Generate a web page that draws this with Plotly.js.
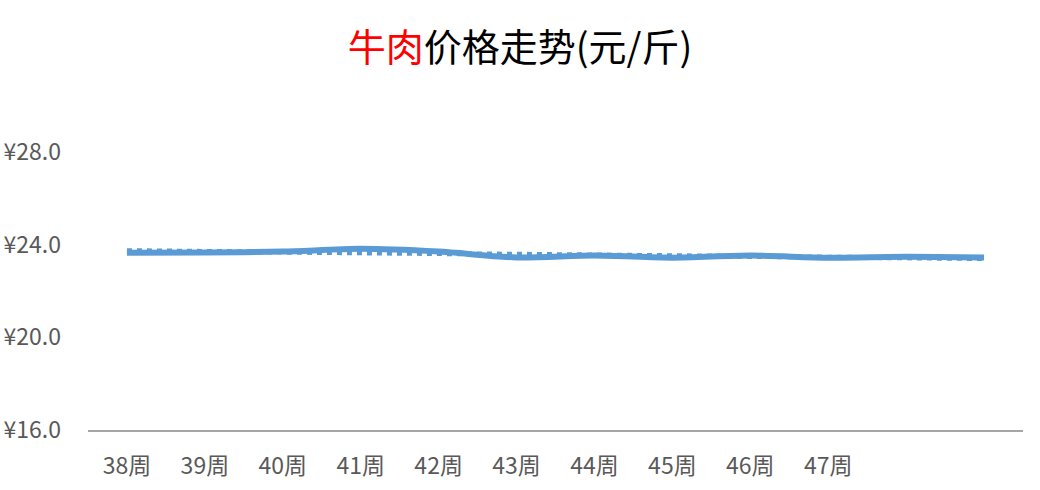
<!DOCTYPE html>
<html>
<head>
<meta charset="utf-8">
<script src="https://cdn.plot.ly/plotly-3.0.1.min.js"></script>
<style>html,body{margin:0;padding:0;background:#fff;}#chart{width:1040px;height:490px;}</style>
</head>
<body>
<div id="chart"></div>
<script>
var weeks = [0,1,2,3,4,5,6,7,8,9,10,11];
var weekLabels = ["38周","39周","40周","41周","42周","43周","44周","45周","46周","47周","",""];
var beefPrice = [23.65,23.66,23.70,23.82,23.70,23.45,23.53,23.44,23.53,23.44,23.48,23.45];
var beefTrend = [23.74,23.71,23.68,23.64,23.61,23.58,23.55,23.52,23.49,23.46,23.43,23.40];

var lineColor = "#5B9BD5";
var traces = [
  {x: weeks, y: beefTrend, type: "scatter", mode: "lines",
   line: {color: lineColor, width: 5, dash: "dot"}, hoverinfo: "skip"},
  {x: weeks, y: beefPrice, type: "scatter", mode: "lines",
   line: {color: lineColor, width: 6, shape: "spline", smoothing: 0.8}}
];
var tickFont = {family: "Noto Sans CJK SC, Noto Sans, sans-serif", size: 23, color: "#595959"};
var layout = {
  width: 1040, height: 490,
  paper_bgcolor: "#fff", plot_bgcolor: "#fff",
  showlegend: false,
  margin: {l: 88, r: 17, t: 152, b: 60},
  title: {
    text: '<span style="color:#FF0000">牛肉</span>价格走势(元/斤)',
    font: {family: "Noto Sans CJK SC, sans-serif", size: 38, color: "#000"},
    x: 0.5, xanchor: "center", xref: "container",
    y: 0.902, yanchor: "middle", yref: "container"
  },
  xaxis: {
    range: [-0.5, 11.5], tickvals: weeks, ticktext: weekLabels,
    showgrid: false, zeroline: false, showline: true,
    linecolor: "#A6A6A6", linewidth: 2, ticks: "",
    tickfont: tickFont, ticklabelstandoff: 14
  },
  yaxis: {
    range: [16, 28], tickvals: [16,20,24,28],
    ticktext: ["¥16.0","¥20.0","¥24.0","¥28.0"],
    showgrid: false, zeroline: false, showline: false, ticks: "",
    tickfont: tickFont, ticklabelstandoff: 26
  }
};
Plotly.newPlot("chart", traces, layout, {displayModeBar: false, staticPlot: true});
</script>
</body>
</html>
